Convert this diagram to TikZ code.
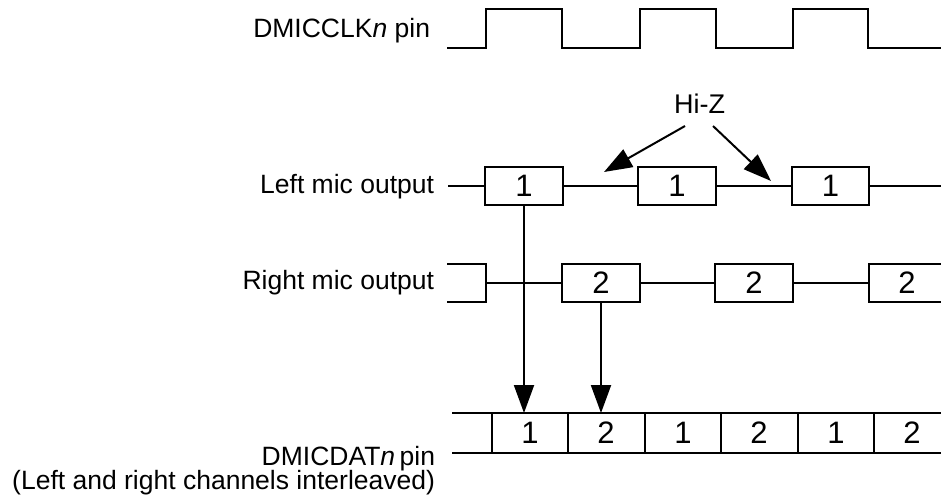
\documentclass[tikz,border=0pt]{standalone}
\usepackage{fontspec}
\setmainfont{Liberation Sans}
\usetikzlibrary{arrows.meta, positioning}

\begin{document}
\begin{tikzpicture}[x=1pt, y=-1pt, line width=2pt,
		lbl/.style = {anchor=base east, inner sep=0pt, font=\fontsize{26.5}{24.5}\selectfont},
		bit/.style = {draw, minimum width=77.5pt, minimum height=38pt, inner sep=0pt, font=\fontsize{31}{31}\selectfont},
		num/.style = {inner sep=0pt, font=\fontsize{31}{31}\selectfont},
		>={Triangle[length=28pt, width=20pt]}]
			\def\hi{9};
			\def\lo{48};
			
			\useasboundingbox (0,0) rectangle (941,501);
			
			\node[lbl] (clk) at (431,37) {DMICCLK{\itshape n} pin};
			\node[lbl] (left) at (435,193) {Left mic output};
			\node[lbl] (right) at (435,289) {Right mic output};
			\node[lbl] (dat) at (436,465) {DMICDAT{\itshape n}\,pin};
			\node[lbl] (datnote) at (436,489) {(Left and right channels interleaved)};
			
			\draw (447,\lo) -- (486,\lo) -- (486,\hi) -- (562,\hi) -- (562,\lo) -- (640,\lo)
				-- (640,\hi) -- (716,\hi) -- (716,\lo) -- (793,\lo) -- (793,\hi) -- (868,\hi)
				-- (868,\lo) -- (941,\lo);
			
			\node[bit] (l1) at (524,186) {1};
			\node[bit] (l2) at (677,186) {1};
			\node[bit] (l3) at (830.5,186) {1};
			\draw
				(448,186) -- (l1.west)
				(l1.east) -- (l2.west)
				(l2.east) -- (l3.west)
				(l3.east) -- (941,186);
			
			\node[bit] (r1) at (601,283) {2};
			\node[bit] (r2) at (754,283) {2};
			\node[num] (r3) at (907,283) {2};
			\draw
				(447,264) -- (486,264) -- (486,302) -- (447,302)
				(486,283) -- (r1.west)
				(r1.east) -- (r2.west)
				(r2.east) -- (869,283)
				(941,264) -- (869,264) -- (869,302) -- (941,302);
			
			\coordinate (bus) at (452,413);
			\draw (bus) -- (941,413) (452,453) -- (941,453);
			\foreach \x in {492,568,645,721,798,874}
				\draw (\x,413) -- (\x,453);
			\foreach \x/\b [count=\i] in {530/1,606/2,683/1,759/2,836/1,912/2}
				\node[num] (d\i) at (\x,433) {\b};
			
			\node[anchor=base, inner sep=0pt, font=\fontsize{27}{27}\selectfont] (hiz) at (699.5,113) {Hi-Z};
			\coordinate (z1) at (604,172);
			\coordinate (z2) at (771,181);
			
			\begin{scope}[->]
				\draw ([xshift=-14.5pt, yshift=-12pt]hiz.south) -- (z1);
				\draw ([xshift=13.5pt, yshift=-12pt]hiz.south) -- (z2);
				\draw (l1.south) -- (l1 |- bus);
				\draw (r1.south) -- (r1 |- bus);
			\end{scope}
		\end{tikzpicture}
\end{document}
